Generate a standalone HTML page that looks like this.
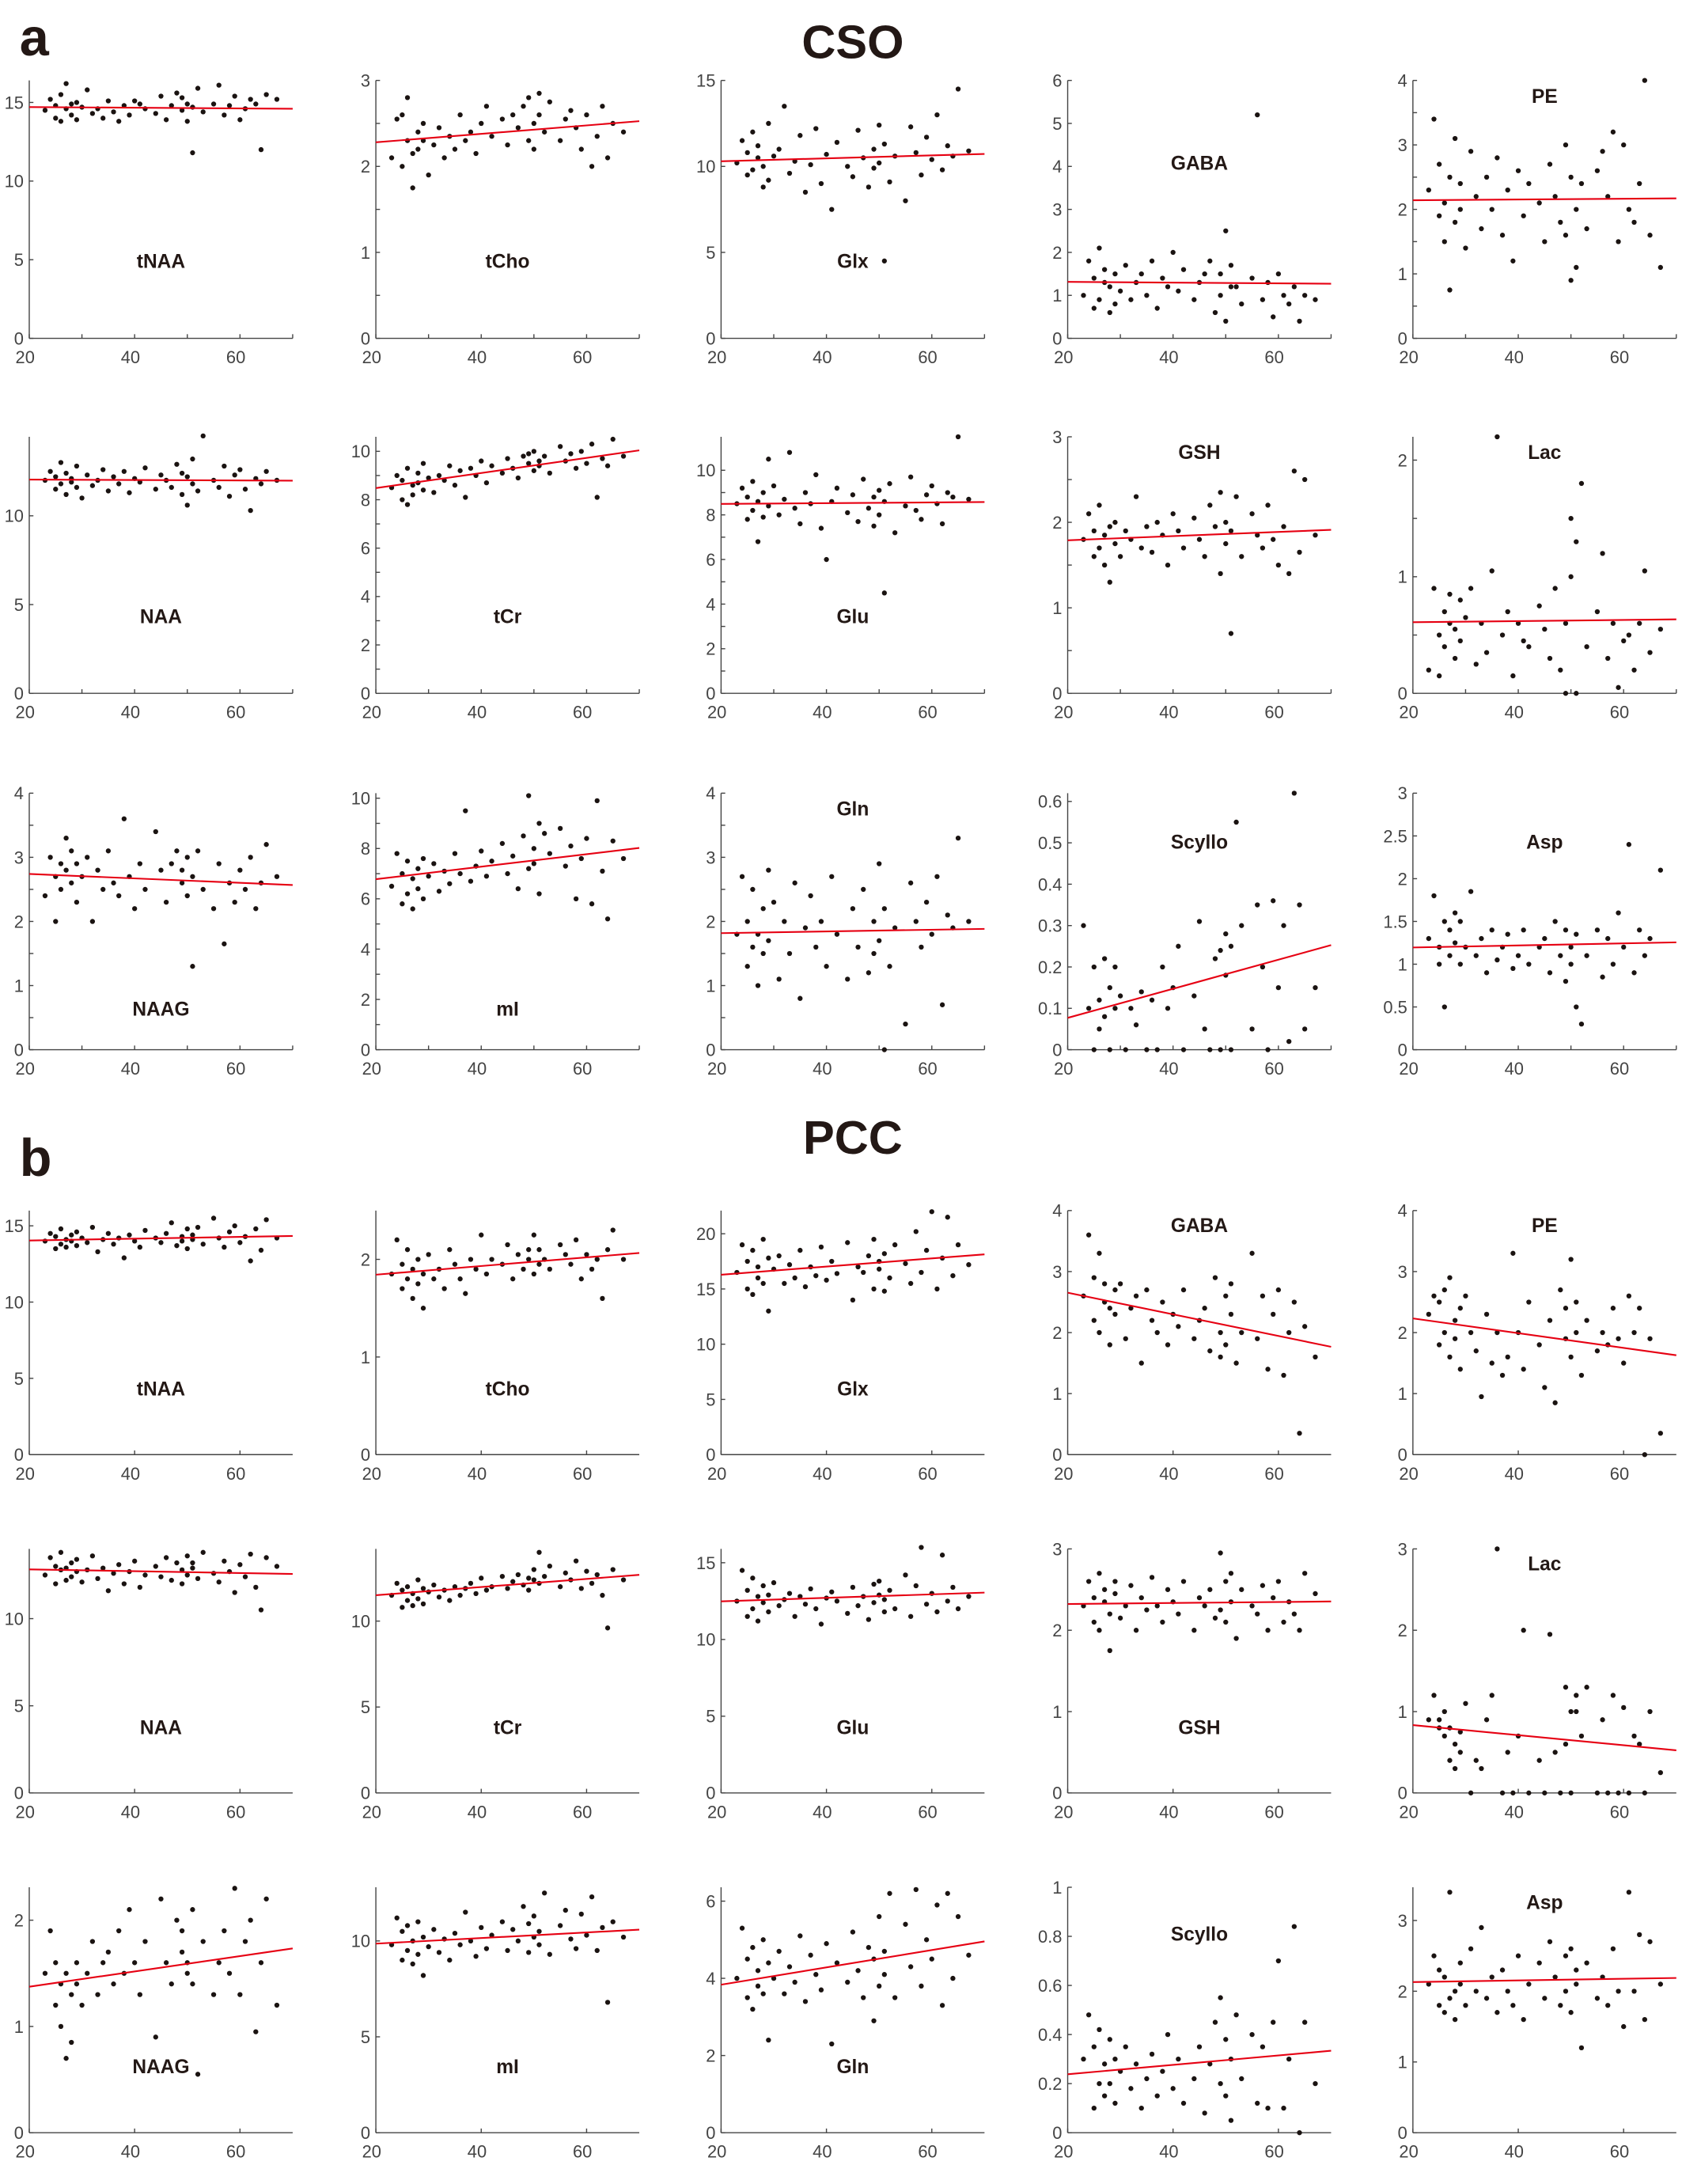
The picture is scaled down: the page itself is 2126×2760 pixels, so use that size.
<!DOCTYPE html>
<html><head><meta charset="utf-8">
<style>
html,body{margin:0;padding:0;background:#fff;}
svg{display:block;}
text{font-family:"Liberation Sans",Arial,sans-serif;}
</style></head>
<body>
<svg id="fig" width="2126" height="2760" viewBox="0 0 1213 1575" xmlns="http://www.w3.org/2000/svg">
<rect width="1213" height="1575" fill="#fff"/>
<text x="14" y="40" font-size="38" font-weight="bold" fill="#231815">a</text>
<text x="615" y="42" font-size="34" font-weight="bold" text-anchor="middle" fill="#231815">CSO</text>
<text x="14" y="848" font-size="38" font-weight="bold" fill="#231815">b</text>
<text x="615" y="832" font-size="34" font-weight="bold" text-anchor="middle" fill="#231815">PCC</text>
</svg>
<script>
const agesCSO=[23,24,25,25,26,26,27,27,28,28,29,29,30,31,32,33,34,35,36,37,38,39,40,41,42,44,45,46,47,48,49,49,50,50,51,51,52,53,55,56,57,58,59,60,61,62,63,64,65,67];
const agesPCC=[23,24,25,25,26,26,27,27,28,28,29,29,30,31,32,33,34,35,36,37,38,39,40,41,42,44,45,46,47,48,49,49,50,50,51,51,52,53,55,56,57,58,59,60,61,62,63,64,65,67];

const a_tNAA=[14.5,15.2,14.0,14.8,15.5,13.8,14.6,16.2,14.9,14.2,15.0,13.9,14.7,15.8,14.3,14.6,14.0,15.1,14.4,13.8,14.8,14.2,15.1,14.9,14.6,14.3,15.4,13.9,14.8,15.6,14.5,15.3,14.9,13.8,11.8,14.7,15.9,14.4,14.9,16.1,14.2,14.8,15.4,13.9,14.6,15.2,14.9,12.0,15.5,15.2];
const a_tCho=[2.1,2.55,2.6,2.0,2.3,2.8,2.15,1.75,2.4,2.2,2.5,2.3,1.9,2.25,2.45,2.1,2.35,2.2,2.6,2.3,2.4,2.15,2.5,2.7,2.35,2.55,2.25,2.6,2.45,2.7,2.3,2.8,2.5,2.2,2.6,2.85,2.4,2.75,2.3,2.55,2.65,2.45,2.2,2.6,2.0,2.35,2.7,2.1,2.5,2.4];
const a_Glx=[10.2,11.5,9.5,10.8,12.0,9.8,10.5,11.2,8.8,10.0,12.5,9.2,10.6,11.0,13.5,9.6,10.3,11.8,8.5,10.1,12.2,9.0,10.7,7.5,11.4,10.0,9.4,12.1,10.5,8.8,11.0,9.9,12.4,10.2,4.5,11.3,9.1,10.6,8.0,12.3,10.8,9.5,11.7,10.4,13.0,9.8,11.2,10.6,14.5,10.9];
const a_GABA=[1.0,1.8,0.7,1.4,2.1,0.9,1.3,1.6,0.6,1.2,1.5,0.8,1.1,1.7,0.9,1.3,1.5,1.0,1.8,0.7,1.4,1.2,2.0,1.1,1.6,0.9,1.3,1.5,1.8,0.6,1.5,1.0,2.5,0.4,1.7,1.2,1.2,0.8,1.4,5.2,0.9,1.3,0.5,1.5,1.0,0.8,1.2,0.4,1.0,0.9];
const a_PE=[2.3,3.4,1.9,2.7,1.5,2.1,0.75,2.5,1.8,3.1,2.4,2.0,1.4,2.9,2.2,1.7,2.5,2.0,2.8,1.6,2.3,1.2,2.6,1.9,2.4,2.1,1.5,2.7,2.2,1.8,3.0,1.6,2.5,0.9,2.0,1.1,2.4,1.7,2.6,2.9,2.2,3.2,1.5,3.0,2.0,1.8,2.4,4.0,1.6,1.1];
const a_NAA=[12.0,12.5,11.5,12.2,11.8,13.0,11.2,12.4,11.9,12.1,11.6,12.8,11.0,12.3,11.7,12.0,12.6,11.4,12.2,11.8,12.5,11.3,12.1,11.9,12.7,11.5,12.3,12.0,11.6,12.9,11.2,12.4,10.6,12.2,11.8,13.2,11.4,14.5,12.0,11.6,12.8,11.1,12.3,12.6,11.5,10.3,12.1,11.8,12.5,12.0];
const a_tCr=[8.5,9.0,8.0,8.8,7.8,9.3,8.6,8.2,9.1,8.7,8.4,9.5,8.9,8.3,9.0,8.8,9.4,8.6,9.2,8.1,9.3,9.0,9.6,8.7,9.4,9.1,9.7,9.3,8.9,9.8,9.5,9.9,9.2,10.0,9.6,9.4,9.8,9.1,10.2,9.6,9.9,9.3,10.0,9.5,10.3,8.1,9.7,9.4,10.5,9.8];
const a_Glu=[8.5,9.2,7.8,8.8,9.5,8.2,6.8,8.6,9.0,7.9,10.5,8.4,9.3,8.0,8.7,10.8,8.3,7.6,9.0,8.5,9.8,7.4,6.0,8.6,9.2,8.1,8.9,7.7,9.6,8.3,8.8,7.5,9.1,8.0,4.5,8.6,9.4,7.2,8.4,9.7,8.2,7.8,8.9,9.3,8.5,7.6,9.0,8.8,11.5,8.7];
const a_GSH=[1.8,2.1,1.6,1.9,1.7,2.2,1.5,1.85,1.95,1.3,1.75,2.0,1.6,1.9,1.8,2.3,1.7,1.95,1.65,2.0,1.85,1.5,2.1,1.9,1.7,2.05,1.8,1.6,2.2,1.95,1.4,2.35,1.75,2.0,0.7,1.9,2.3,1.6,2.1,1.85,1.7,2.2,1.8,1.5,1.95,1.4,2.6,1.65,2.5,1.85];
const a_Lac=[0.2,0.9,0.5,0.15,0.7,0.4,0.6,0.85,0.3,0.55,0.8,0.45,0.65,0.9,0.25,0.6,0.35,1.05,2.2,0.5,0.7,0.15,0.6,0.45,0.4,0.75,0.55,0.3,0.9,0.2,0.0,0.6,1.0,1.5,0.0,1.3,1.8,0.4,0.7,1.2,0.3,0.6,0.05,0.45,0.5,0.2,0.6,1.05,0.35,0.55];
const a_NAAG=[2.4,3.0,2.0,2.7,2.9,2.5,3.3,2.8,3.1,2.6,2.9,2.3,2.7,3.0,2.0,2.8,2.5,3.1,2.6,2.4,3.6,2.7,2.2,2.9,2.5,3.4,2.8,2.3,2.9,3.1,2.6,2.8,2.4,3.0,1.3,2.7,3.1,2.5,2.2,2.9,1.65,2.6,2.3,2.8,2.5,3.0,2.2,2.6,3.2,2.7];
const a_mI=[6.5,7.8,5.8,7.0,6.2,7.5,6.8,5.6,7.2,6.4,7.6,6.0,6.9,7.4,6.3,7.1,6.6,7.8,7.0,9.5,6.7,7.3,7.9,6.9,7.5,8.2,7.0,7.7,6.4,8.5,7.2,10.1,8.0,7.4,9.0,6.2,8.6,7.8,8.8,7.3,8.1,6.0,7.6,8.4,5.8,9.9,7.1,5.2,8.3,7.6];
const a_Gln=[1.8,2.7,1.3,2.0,1.6,2.5,1.0,1.8,2.2,1.5,2.8,1.7,2.3,1.1,2.0,1.5,2.6,0.8,1.9,2.4,1.6,2.0,1.3,2.7,1.8,1.1,2.2,1.6,2.5,1.2,2.0,1.5,2.9,1.7,0.0,2.2,1.3,1.9,0.4,2.6,2.0,1.6,2.3,1.8,2.7,0.7,2.1,1.9,3.3,2.0];
const a_Scyllo=[0.3,0.1,0.0,0.2,0.12,0.05,0.22,0.08,0.15,0.0,0.1,0.2,0.13,0.0,0.1,0.06,0.14,0.0,0.12,0.0,0.2,0.1,0.15,0.25,0.0,0.13,0.31,0.05,0.0,0.22,0.24,0.0,0.28,0.18,0.25,0.0,0.55,0.3,0.05,0.35,0.2,0.0,0.36,0.15,0.3,0.02,0.62,0.35,0.05,0.15];
const a_Asp=[1.3,1.8,1.0,1.2,1.5,0.5,1.4,1.1,1.6,1.25,1.0,1.5,1.2,1.85,1.1,1.3,0.9,1.4,1.05,1.2,1.35,0.95,1.1,1.4,1.0,1.2,1.3,0.9,1.5,1.1,1.4,0.8,1.2,1.0,0.5,1.35,0.3,1.1,1.4,0.85,1.3,1.0,1.6,1.2,2.4,0.9,1.4,1.1,1.3,2.1];

const b_tNAA=[14.0,14.5,13.5,14.3,13.8,14.8,14.1,13.6,14.4,14.0,13.7,14.6,14.2,13.9,14.9,13.3,14.1,14.5,13.8,14.2,12.9,14.4,14.0,13.6,14.7,14.2,13.9,14.5,15.2,13.7,14.3,14.0,14.8,13.5,14.4,14.1,14.9,13.8,15.5,14.2,13.6,14.6,15.0,13.9,14.3,12.7,14.8,13.4,15.4,14.2];
const b_tCho=[1.85,2.2,1.7,1.95,1.8,2.1,1.6,1.9,2.0,1.75,1.5,1.85,2.05,1.8,1.9,1.7,2.1,1.95,1.8,1.65,2.0,1.9,2.25,1.85,2.0,1.95,2.15,1.8,2.05,1.9,2.1,2.0,1.85,2.25,1.95,2.1,2.0,1.9,2.15,2.05,1.95,2.2,1.8,2.05,1.9,2.0,1.6,2.1,2.3,2.0];
const b_Glx=[16.5,19.0,15.0,17.5,18.5,14.5,17.0,16.0,19.5,15.5,17.8,13.0,16.8,18.0,15.5,17.2,16.0,18.5,15.2,17.0,16.2,18.8,15.8,17.5,16.4,19.2,14.0,17.0,16.5,18.0,15.0,19.5,16.8,17.5,14.8,18.2,16.0,19.0,17.3,15.5,20.2,16.5,18.5,22.0,15.0,17.8,21.5,16.2,19.0,17.2];
const b_GABA=[2.6,3.6,2.2,2.9,3.3,2.0,2.5,2.8,1.8,2.4,2.7,2.3,2.8,1.9,2.4,2.6,1.5,2.7,2.2,2.0,2.5,1.8,2.3,2.1,2.7,1.9,2.2,2.4,1.7,2.9,2.0,1.6,2.6,1.8,2.3,2.8,1.5,2.0,3.3,1.9,2.6,1.4,2.3,2.7,1.3,2.0,2.5,0.35,2.1,1.6];
const b_PE=[2.3,2.6,1.8,2.5,2.0,2.7,1.6,2.9,2.2,1.9,2.4,1.4,2.6,2.0,1.7,0.95,2.3,1.5,2.0,1.3,1.6,3.3,2.0,1.4,2.5,1.8,1.1,2.2,0.85,2.7,1.9,2.4,3.2,1.6,2.0,2.5,1.3,2.2,1.7,2.0,1.8,2.4,1.9,1.5,2.6,2.0,2.4,0.0,1.9,0.35];
const b_NAA=[12.5,13.5,12.0,13.0,12.8,13.8,12.2,12.9,13.2,12.4,12.7,13.4,12.1,12.8,13.6,12.3,12.9,11.6,12.6,13.1,12.0,12.7,13.3,11.8,12.5,13.0,12.4,13.5,12.2,13.2,12.8,12.0,13.6,12.5,12.9,13.2,12.3,13.8,12.6,12.1,13.3,12.7,11.5,13.1,12.4,13.7,11.8,10.5,13.5,13.0];
const b_tCr=[11.5,12.2,10.8,11.8,12.0,11.2,11.6,10.9,12.4,11.3,11.9,11.0,11.7,12.1,11.4,11.8,11.2,12.0,11.5,11.9,12.2,11.6,12.5,11.8,12.0,12.6,11.9,12.3,12.7,12.1,12.5,11.8,13.0,12.4,12.2,14.0,12.6,13.2,12.0,12.8,12.4,13.5,11.9,12.9,12.2,12.7,11.5,9.6,13.0,12.4];
const b_Glu=[12.5,14.5,11.5,13.2,12.0,14.0,12.8,11.2,13.5,12.4,12.9,11.8,13.7,12.2,12.6,13.0,11.5,12.8,12.3,13.3,12.0,11.0,12.7,13.1,12.5,11.7,13.4,12.2,12.8,11.3,13.6,12.4,12.9,13.8,11.8,12.6,13.2,12.0,14.2,11.5,13.5,16.0,12.3,13.0,11.8,15.5,12.5,13.4,12.0,12.8];
const b_GSH=[2.3,2.6,2.1,2.4,2.7,2.0,2.35,2.5,2.2,1.75,2.45,2.6,2.15,2.3,2.55,2.0,2.4,2.25,2.65,2.3,2.1,2.5,2.35,2.2,2.6,2.0,2.4,2.3,2.5,2.15,2.95,2.25,2.6,2.1,2.35,2.7,1.9,2.5,2.3,2.2,2.55,2.0,2.4,2.6,2.1,2.35,2.2,2.0,2.7,2.45];
const b_Lac=[0.9,1.2,0.8,0.9,0.7,1.0,0.4,0.8,0.6,0.3,0.75,0.5,1.1,0.0,0.4,0.3,0.9,1.2,3.0,0.0,0.5,0.0,0.7,2.0,0.0,0.4,0.0,1.95,0.5,0.0,0.6,1.3,1.0,0.0,1.0,1.2,0.7,1.3,0.0,0.9,0.0,1.2,0.0,1.05,0.0,0.7,0.6,0.0,1.0,0.25];
const b_NAAG=[1.5,1.9,1.2,1.6,1.0,1.4,0.7,1.5,1.3,0.85,1.6,1.4,1.2,1.5,1.8,1.3,1.6,1.7,1.4,1.9,1.5,2.1,1.6,1.3,1.8,0.9,2.2,1.6,1.4,2.0,1.7,1.9,1.5,1.6,2.1,1.4,0.55,1.8,1.3,1.6,1.9,1.5,2.3,1.3,1.8,2.0,0.95,1.6,2.2,1.2];
const b_mI=[9.8,11.2,9.0,10.5,9.5,10.8,8.8,10.0,9.3,11.0,8.2,10.2,9.7,10.6,9.4,10.1,9.0,10.4,9.8,11.5,10.0,9.2,10.7,9.6,10.3,11.0,9.5,10.6,10.0,11.8,9.4,10.9,10.2,11.3,9.8,10.5,12.5,9.3,10.8,11.6,10.1,9.6,11.4,10.3,12.3,9.5,10.7,6.8,11.0,10.2];
const b_Gln=[4.0,5.3,3.5,4.5,3.2,4.8,4.2,3.8,5.0,3.6,4.4,2.4,4.0,4.7,3.6,4.3,3.9,5.1,3.4,4.6,4.1,3.7,4.9,2.3,4.4,3.9,5.2,4.2,3.5,4.8,2.9,4.5,5.6,3.8,4.7,4.1,6.2,3.5,5.4,4.3,6.3,3.8,5.0,4.5,5.9,3.3,6.2,4.0,5.6,4.6];
const b_Scyllo=[0.3,0.48,0.1,0.35,0.2,0.42,0.15,0.28,0.38,0.2,0.3,0.12,0.25,0.35,0.18,0.28,0.1,0.22,0.32,0.15,0.25,0.4,0.18,0.3,0.12,0.22,0.35,0.08,0.28,0.45,0.2,0.55,0.15,0.38,0.3,0.05,0.48,0.22,0.4,0.12,0.35,0.1,0.45,0.7,0.1,0.3,0.84,0.0,0.45,0.2];
const b_Asp=[2.1,2.5,1.8,2.3,1.7,2.2,1.9,3.4,2.0,1.6,2.4,2.1,1.8,2.6,2.0,2.9,1.9,2.2,1.7,2.3,2.0,1.8,2.5,1.6,2.1,2.4,1.9,2.7,2.2,1.8,2.5,2.0,2.6,1.7,2.3,2.1,1.2,2.4,1.9,2.2,1.8,2.6,2.0,1.5,3.4,2.0,2.8,1.6,2.7,2.1];

const xTickLabels=["20","40","60"];
const ticks_0_15=["0","5","10","15"];
const ticks_0_3=["0","1","2","3"];
const ticks_0_6=["0","1","2","3","4","5","6"];
const ticks_0_4=["0","1","2","3","4"];
const ticks_0_10=["0","5","10"];
const ticks_0_10by2=["0","2","4","6","8","10"];
const ticks_0_2=["0","1","2"];
const ticks_scyA=["0","0.1","0.2","0.3","0.4","0.5","0.6"];
const ticks_aspA=["0","0.5","1","1.5","2","2.5","3"];
const ticks_0_20=["0","5","10","15","20"];
const ticks_0_6by2=["0","2","4","6"];
const ticks_scyB=["0","0.2","0.4","0.6","0.8","1"];

const colX=[21,271,520,770,1019];
const rowsA=[[58,244],[315,500],[572,757]];
const rowsB=[[873,1049],[1117,1293],[1361,1538]];
const W=190;

const panels=[
 ["a",0,0,"tNAA",a_tNAA,16.4,ticks_0_15,0,0.3],
 ["a",0,1,"tCho",a_tCho,3,ticks_0_3,0.5,0.3],
 ["a",0,2,"Glx",a_Glx,15,ticks_0_15,0,0.3],
 ["a",0,3,"GABA",a_GABA,6,ticks_0_6,0,0.68],
 ["a",0,4,"PE",a_PE,4,ticks_0_4,0.5,0.94],
 ["a",1,0,"NAA",a_NAA,14.45,ticks_0_10,0,0.3],
 ["a",1,1,"tCr",a_tCr,10.6,ticks_0_10by2,1,0.3],
 ["a",1,2,"Glu",a_Glu,11.5,ticks_0_10by2,1,0.3],
 ["a",1,3,"GSH",a_GSH,3,ticks_0_3,0.5,0.94],
 ["a",1,4,"Lac",a_Lac,2.2,ticks_0_2,0.5,0.94],
 ["a",2,0,"NAAG",a_NAAG,4,ticks_0_4,0.5,0.16],
 ["a",2,1,"mI",a_mI,10.2,ticks_0_10by2,1,0.16],
 ["a",2,2,"Gln",a_Gln,4,ticks_0_4,0.5,0.94],
 ["a",2,3,"Scyllo",a_Scyllo,0.62,ticks_scyA,0,0.81],
 ["a",2,4,"Asp",a_Asp,3,ticks_aspA,0,0.81],
 ["b",0,0,"tNAA",b_tNAA,16,ticks_0_15,0,0.27],
 ["b",0,1,"tCho",b_tCho,2.5,ticks_0_2,0,0.27],
 ["b",0,2,"Glx",b_Glx,22.1,ticks_0_20,0,0.27],
 ["b",0,3,"GABA",b_GABA,4,ticks_0_4,0,0.94],
 ["b",0,4,"PE",b_PE,4,ticks_0_4,0,0.94],
 ["b",1,0,"NAA",b_NAA,14,ticks_0_10,0,0.27],
 ["b",1,1,"tCr",b_tCr,14.2,ticks_0_10,0,0.27],
 ["b",1,2,"Glu",b_Glu,15.9,ticks_0_15,0,0.27],
 ["b",1,3,"GSH",b_GSH,3,ticks_0_3,0,0.27],
 ["b",1,4,"Lac",b_Lac,3,ticks_0_3,0,0.94],
 ["b",2,0,"NAAG",b_NAAG,2.31,ticks_0_2,0,0.27],
 ["b",2,1,"mI",b_mI,12.8,ticks_0_10,0,0.27],
 ["b",2,2,"Gln",b_Gln,6.36,ticks_0_6by2,0,0.27],
 ["b",2,3,"Scyllo",b_Scyllo,1,ticks_scyB,0,0.81],
 ["b",2,4,"Asp",b_Asp,3.47,ticks_0_3,0,0.94]
];

const NS="http://www.w3.org/2000/svg";
const svg=document.getElementById("fig");
function mk(tag,attrs,parent){const e=document.createElementNS(NS,tag);for(const k in attrs)e.setAttribute(k,attrs[k]);parent.appendChild(e);return e;}

panels.forEach(p=>{
  const [sec,row,col,name,vals,ymax,yt,minor,lf]=p;
  const ages=sec==="a"?agesCSO:agesPCC;
  const [top,bot]=(sec==="a"?rowsA:rowsB)[row];
  const left=colX[col];
  const sx=v=>left+(v-20)/50*W;
  const sy=v=>bot-(v/ymax)*(bot-top);
  const g=mk("g",{},svg);
  
  
  const ax="#444";
  const yl=mk("line",{x1:left,y1:top,x2:left,y2:bot,stroke:ax,"stroke-width":0.8},g);
  
  
  const xl=mk("line",{x1:left,y1:bot,x2:left+W,y2:bot,stroke:ax,"stroke-width":0.8},g);
  
  
  const xt=sec==="a"?[20,30,40,50,60,70]:[20,40,60];
  xt.forEach(v=>{mk("line",{x1:sx(v),y1:bot,x2:sx(v),y2:bot-3,stroke:ax,"stroke-width":0.8},g);});
  xTickLabels.forEach(l=>{
    const t=mk("text",{x:sx(+l)-3,y:bot+18,"font-size":12.5,fill:"#444","text-anchor":"middle"},g);
    t.textContent=l;
    
    
  });
  yt.forEach(l=>{
    const v=parseFloat(l);
    mk("line",{x1:left,y1:sy(v),x2:left+3,y2:sy(v),stroke:ax,"stroke-width":0.8},g);
    const t=mk("text",{x:left-4,y:sy(v)+4.5,"font-size":12.5,fill:"#444","text-anchor":"end"},g);
    t.textContent=l;
    
    
  });
  if(minor){
    const maxT=parseFloat(yt[yt.length-1]);
    for(let v=minor;v<maxT;v+=minor*2){mk("line",{x1:left,y1:sy(v),x2:left+3,y2:sy(v),stroke:ax,"stroke-width":0.8},g);}
  }
  const n=Math.min(ages.length,vals.length);
  for(let i=0;i<n;i++){
    const c=mk("circle",{cx:sx(ages[i]),cy:sy(vals[i]),r:1.8,fill:"#1a1311"},g);
    
    
  }
  let mx=0,my=0;for(let i=0;i<n;i++){mx+=ages[i];my+=vals[i];}mx/=n;my/=n;
  let sxy=0,sxx=0;for(let i=0;i<n;i++){sxy+=(ages[i]-mx)*(vals[i]-my);sxx+=(ages[i]-mx)**2;}
  const b=sxy/sxx,a0=my-b*mx;
  const fl=mk("line",{x1:sx(20),y1:sy(a0+b*20),x2:sx(70),y2:sy(a0+b*70),stroke:"#e60012","stroke-width":1.2},g);
  
  
  const lt=mk("text",{x:sx(45),y:bot-lf*(bot-top)+5,"font-size":14,"font-weight":"bold",fill:"#231815","text-anchor":"middle"},g);
  lt.textContent=name;
  
  
});
</script>
</body></html>
